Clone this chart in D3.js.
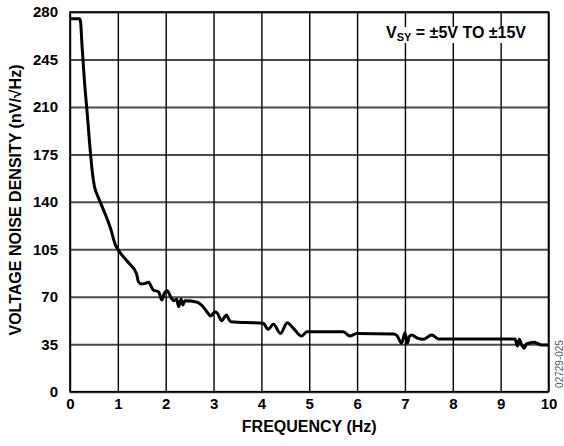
<html>
  <head>
    <meta charset="utf-8" />
    <script src="https://d3js.org/d3.v7.min.js"></script>
  </head>
  <style>
    body { margin: 0; background: #fff; }
    svg { font-family: "Liberation Sans", Arial, sans-serif; }
  </style>
  <body>
    <div id="viz"><svg></svg></div>
  </body>
  <footer>
    <script>
      // values
      var freq = [0, 0.2, 0.22, 0.25, 0.3, 0.36, 0.43, 0.47, 0.52, 0.56, 0.63, 0.86, 0.94, 1.0,
        1.2, 1.39, 1.43, 1.5, 1.58, 1.64, 1.74, 1.85, 1.92, 1.97, 2.03, 2.12, 2.17, 2.23,
        2.27, 2.32, 2.36, 2.4, 2.66, 2.76, 2.86, 2.94, 3.03, 3.08, 3.17, 3.27, 3.31, 3.36,
        4.04, 4.14, 4.25, 4.4, 4.54, 4.67, 4.84, 4.95, 5.71, 5.85, 5.99, 6.76, 6.83, 6.93,
        7.0, 7.05, 7.09, 7.14, 7.26, 7.38, 7.56, 7.7, 9.3, 9.35, 9.39, 9.44, 9.49, 9.54,
        9.7, 9.86, 10];
      var noise = [275, 275, 273, 256, 230, 205, 175, 161, 150, 146, 140, 119, 109, 105,
        96, 87, 81, 79.4, 80, 80.7, 75, 73.7, 67.6, 72.5, 74.5, 68.9, 67.1, 68.1,
        62.7, 68.1, 64, 67, 66, 63.5, 59, 55.8, 59, 57.8, 52.4, 56.6, 54, 51.6,
        50.4, 46, 49.7, 43, 50.9, 46.7, 41, 44.2, 44.2, 41, 43, 42.5, 41.5, 35.7,
        43.5, 35.7, 40.6, 41.8, 39.5, 38.6, 41.8, 38.9, 38.9, 33.7, 38.6, 34.4, 32, 35.2,
        36.4, 34.4, 34.4];
      var xTicks = [0, 1, 2, 3, 4, 5, 6, 7, 8, 9, 10];
      var yTicks = [0, 35, 70, 105, 140, 175, 210, 245, 280];

      var W = 564, H = 446;
      var mLeft = 70, mTop = 12, mRight = 548.5, mBottom = 391.7;

      var svg = d3.select("svg").attr("width", W).attr("height", H);

      var x = d3.scaleLinear().domain([0, 10]).range([mLeft, mRight]);
      var y = d3.scaleLinear().domain([0, 280]).range([mBottom, mTop]);

      // horizontal grid + y tick labels
      var gy = svg.append("g")
        .attr("transform", "translate(" + mLeft + ",0)")
        .call(d3.axisLeft(y).tickValues(yTicks).tickSize(-(mRight - mLeft)).tickPadding(12));
      gy.select(".domain").remove();
      gy.selectAll("line").attr("stroke", "#4a4a4a").attr("stroke-width", 2);

      // vertical grid + x tick labels
      var gx = svg.append("g")
        .attr("transform", "translate(0," + mBottom + ")")
        .call(d3.axisBottom(x).tickValues(xTicks).tickSize(-(mBottom - mTop)).tickPadding(7));
      gx.select(".domain").remove();
      gx.selectAll("line").attr("stroke", "#000").attr("stroke-width", 1.4);

      svg.selectAll(".tick text")
        .attr("font-family", "'Liberation Sans', Arial, sans-serif")
        .attr("font-size", 15)
        .attr("font-weight", "bold")
        .attr("fill", "#000");

      // plot frame
      svg.append("rect")
        .attr("x", mLeft).attr("y", mTop)
        .attr("width", mRight - mLeft).attr("height", mBottom - mTop)
        .attr("fill", "none").attr("stroke", "#000").attr("stroke-width", 1.6);

      // supply annotation with white backing
      var noteBack = svg.append("rect").attr("fill", "#fff");
      var note = svg.append("text")
        .attr("x", 386).attr("y", 38)
        .attr("font-size", 16).attr("font-weight", "bold");
      note.append("tspan").text("V");
      note.append("tspan").attr("font-size", 11).attr("dy", 3).text("SY");
      note.append("tspan").attr("dy", -3).text(" = ±5V TO ±15V");
      var bb = note.node().getBBox();
      noteBack
        .attr("x", bb.x - 1).attr("y", bb.y + 3)
        .attr("width", bb.width + 2).attr("height", bb.height - 3);

      // curve
      var line = d3.line()
        .x(function (d, i) { return x(freq[i]); })
        .y(function (d) { return y(d); })
        .curve(d3.curveMonotoneX);
      svg.append("path")
        .datum(noise)
        .attr("d", line)
        .attr("fill", "none")
        .attr("stroke", "#000")
        .attr("stroke-width", 3)
        .attr("stroke-linejoin", "round");

      // axis titles
      svg.append("text")
        .attr("x", (mLeft + mRight) / 2).attr("y", 432)
        .attr("text-anchor", "middle")
        .attr("font-size", 16).attr("font-weight", "bold")
        .text("FREQUENCY (Hz)");
      svg.append("text")
        .attr("transform", "translate(21,200) rotate(-90)")
        .attr("text-anchor", "middle")
        .attr("font-size", 16).attr("font-weight", "bold")
        .text("VOLTAGE NOISE DENSITY (nV/√Hz)");

      // figure code
      svg.append("text")
        .attr("transform", "translate(563,364) rotate(-90)")
        .attr("text-anchor", "middle")
        .attr("font-size", 10).attr("fill", "#555")
        .text("02729-025");
    </script>
  </footer>
</html>
